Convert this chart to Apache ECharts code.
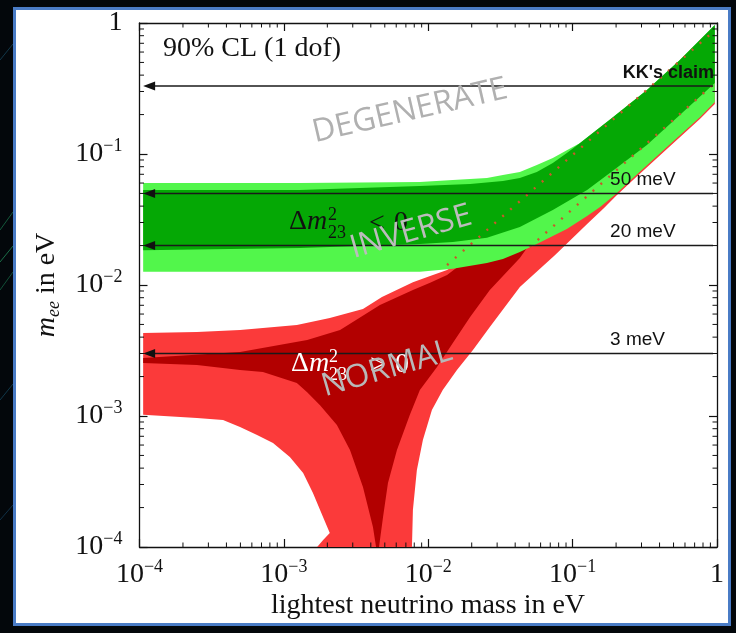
<!DOCTYPE html>
<html>
<head>
<meta charset="utf-8">
<script src="https://cdn.jsdelivr.net/npm/echarts@6.0.0/dist/echarts.min.js"></script>
<style>
html,body{margin:0;padding:0;background:#03070b;}
#chart{width:736px;height:633px;}
</style>
</head>
<body>
<div id="chart"></div>
<script>
// ---------------- data (eV) ----------------
const majorTicks = [1e-4, 1e-3, 1e-2, 1e-1, 1];
const decades = [1e-4, 1e-3, 1e-2, 1e-1];
const minorFactors = [2, 3, 4, 5, 6, 7, 8, 9];

// outer (light red) normal-hierarchy region
const lightRedBand = [
  [1.06e-4, 4.30e-3], [2.5e-4, 4.38e-3], [4.97e-4, 4.53e-3], [7.16e-4, 4.70e-3], [1.23e-3, 4.95e-3],
  [2.08e-3, 5.60e-3], [3.53e-3, 6.56e-3], [4.78e-3, 8.09e-3], [7.83e-3, 1.05e-2], [1.03e-2, 1.17e-2],
  [1.35e-2, 1.30e-2], [8.17e-2, 4.46e-2], [0.966, 0.522], [0.966, 0.241], [0.761, 0.185], [0.450, 0.109],
  [0.262, 0.0634], [0.1995, 0.0478], [0.165, 0.0387], [0.126, 0.0292], [7.53e-2, 0.0169], [4.31e-2, 9.66e-3],
  [2.67e-2, 4.78e-3], [2.04e-2, 3.19e-3], [1.58e-2, 2.24e-3], [1.26e-2, 1.58e-3], [1.06e-2, 1.11e-3],
  [9.18e-3, 6.56e-4], [8.34e-3, 3.87e-4], [7.83e-3, 1.92e-4], [7.71e-3, 1e-4], [1.70e-3, 1e-4],
  [1.87e-3, 1.13e-4], [2.08e-3, 1.28e-4], [1.87e-3, 1.69e-4], [1.59e-3, 2.58e-4], [1.36e-3, 3.67e-4],
  [1.10e-3, 4.86e-4], [8.41e-4, 6.22e-4], [6.52e-4, 7.16e-4], [4.97e-4, 8.24e-4], [3.79e-4, 9.32e-4],
  [2.5e-4, 9.66e-4], [1.06e-4, 1.02e-3]
];
// inner (dark red) normal-hierarchy region
const darkRedBand = [
  [1.06e-4, 2.77e-3], [4.97e-4, 3.08e-3], [1.45e-3, 3.80e-3], [2.45e-3, 4.53e-3], [4.63e-3, 7.03e-3],
  [7.83e-3, 9.16e-3], [1.03e-2, 1.04e-2], [1.35e-2, 1.19e-2], [2.28e-2, 1.85e-2], [4.90e-2, 2.29e-2],
  [5.05e-2, 2.06e-2], [4.31e-2, 1.61e-2], [2.67e-2, 9.16e-3], [1.95e-2, 5.70e-3], [1.48e-2, 3.61e-3],
  [1.15e-2, 2.37e-3], [8.75e-3, 1.58e-3], [7.46e-3, 1.02e-3], [6.07e-3, 5.50e-4], [5.26e-3, 3.08e-4],
  [4.86e-3, 1.69e-4], [4.56e-3, 1e-4], [4.35e-3, 1e-4], [4.14e-3, 1.42e-4], [3.53e-3, 2.87e-4],
  [2.87e-3, 5.50e-4], [2.33e-3, 8.54e-4], [1.78e-3, 1.21e-3], [1.45e-3, 1.52e-3], [1.23e-3, 1.79e-3],
  [7.16e-4, 2.17e-3], [4.97e-4, 2.24e-3], [2.5e-4, 2.45e-3], [1.06e-4, 2.54e-3]
];
// outer (light green) inverted-hierarchy region
const lightGreenBand = [
  [1.06e-4, 0.0601], [1.29e-3, 0.0601], [8.75e-3, 0.0611], [1.48e-2, 0.0634], [2.55e-2, 0.0656],
  [3.29e-2, 0.0691], [4.31e-2, 0.0729], [5.65e-2, 0.0824], [7.29e-2, 0.0932], [9.12e-2, 0.107],
  [0.112, 0.121], [0.190, 0.191], [0.327, 0.308], [0.553, 0.522], [0.966, 0.965], [0.966, 0.249],
  [0.761, 0.191], [0.450, 0.113], [0.262, 0.0656], [0.1995, 0.0495], [0.155, 0.0394], [0.126, 0.0336],
  [9.12e-2, 0.0268], [7.29e-2, 0.0237], [5.65e-2, 0.0206], [4.31e-2, 0.0179], [3.29e-2, 0.0158],
  [2.55e-2, 0.0147], [1.48e-2, 0.0133], [8.75e-3, 0.0126], [1.06e-4, 0.0126]
];
// inner (dark green) inverted-hierarchy region
const darkGreenBand = [
  [1.06e-4, 0.0531], [1.29e-3, 0.0531], [8.75e-3, 0.0570], [1.95e-2, 0.0590], [3.29e-2, 0.0622],
  [4.31e-2, 0.0656], [5.65e-2, 0.0729], [7.29e-2, 0.0854], [9.12e-2, 0.1018], [0.112, 0.121],
  [0.190, 0.191], [0.327, 0.308], [0.553, 0.522], [0.966, 0.965], [0.966, 0.348], [0.553, 0.1985],
  [0.327, 0.117], [0.181, 0.0716], [0.126, 0.0531], [7.29e-2, 0.0374], [4.31e-2, 0.0277],
  [2.55e-2, 0.0229], [1.48e-2, 0.0213], [8.75e-3, 0.0206], [1.29e-3, 0.0192], [1.06e-4, 0.0184]
];
// dotted continuations of the normal-hierarchy contours under the green band
const normalOuterDotted = [[1.35e-2, 1.42e-2], [0.966, 0.88]];
const normalInnerDotted = [[5.05e-2, 1.95e-2], [0.966, 0.348]];

// horizontal arrows
const arrowLevels = [0.33, 0.05, 0.02, 0.003];
const arrowLabels = ["KK's claim", "50 meV", "20 meV", "3 meV"];
const arrowRange = [1.06e-4, 0.94];

// ---------------- styling ----------------
const SERIF = '"Liberation Serif","Times New Roman",serif';
const SANS = '"Liberation Sans",Arial,sans-serif';
const WM = '"Open Sans","DejaVu Sans",sans-serif';
const INK = '#111111';

const minorTickValues = [];
decades.forEach(d => minorFactors.forEach(f => minorTickValues.push(f * d)));

function powLabel(v) {
  const e = Math.round(Math.log10(v));
  if (e === 0) return '{b|1}';
  return '{b|10}{s|\u2212' + (-e) + '}';
}
const tickRich = {
  b: { fontFamily: SERIF, fontSize: 28, lineHeight: 34, color: INK },
  s: { fontFamily: SERIF, fontSize: 18, lineHeight: 18, verticalAlign: 'top', color: INK }
};

function logAxis(extra) {
  return Object.assign({
    type: 'log', logBase: 10, min: 1e-4, max: 1, splitNumber: 4,
    axisLine: { show: true, onZero: false, lineStyle: { color: INK, width: 1.3 } },
    axisTick: { show: true, inside: true, length: 8, lineStyle: { color: INK, width: 1.2 } },
    splitLine: { show: false },
    minorTick: { show: false }
  }, extra);
}

function bandSeries(name, pts, color, z) {
  return {
    type: 'custom', name: name, z: z, clip: true, silent: true,
    data: pts,
    renderItem: function (params, api) {
      if (params.dataIndex !== 0) return null;
      return {
        type: 'polygon',
        shape: { points: pts.map(p => api.coord(p)) },
        style: { fill: color }
      };
    }
  };
}

const chart = echarts.init(document.getElementById('chart'), null, { renderer: 'canvas', width: 736, height: 633 });

const option = {
  animation: false,
  backgroundColor: '#03070b',
  grid: { left: 139.5, right: 19, top: 23, bottom: 86, containLabel: false, outerBoundsMode: 'none' },
  xAxis: [
    logAxis({
      position: 'bottom',
      axisLabel: { show: true, margin: 11, formatter: powLabel, rich: tickRich, showMinLabel: true, showMaxLabel: true }
    }),
    logAxis({ position: 'top', axisLabel: { show: false } })
  ],
  yAxis: [
    logAxis({
      position: 'left',
      axisLabel: { show: true, margin: 17, formatter: powLabel, rich: tickRich, showMinLabel: true, showMaxLabel: true }
    }),
    logAxis({ position: 'right', axisLabel: { show: false } })
  ],
  series: [
    bandSeries('normal outer', lightRedBand, '#fb3a3a', 1),
    bandSeries('normal inner', darkRedBand, '#b20000', 1),
    bandSeries('inverted outer', lightGreenBand, '#52f64b', 2),
    bandSeries('inverted inner', darkGreenBand, '#05a805', 2),
    {
      type: 'line', z: 3, data: normalOuterDotted, showSymbol: false, symbol: 'none', silent: true, clip: true,
      lineStyle: { color: '#c8582a', width: 2.4, type: [2, 8.5] }
    },
    {
      type: 'line', z: 3, data: normalInnerDotted, showSymbol: false, symbol: 'none', silent: true, clip: true,
      lineStyle: { color: '#c8582a', width: 2.4, type: [2, 8.5] }
    },
    {
      type: 'custom', z: 4, silent: true, clip: false,
      data: arrowLevels.map(l => [arrowRange[0], l]),
      renderItem: function (params, api) {
        const i = params.dataIndex;
        const l = arrowLevels[i];
        const p0 = api.coord([arrowRange[0], l]);
        const p1 = api.coord([arrowRange[1], l]);
        const kids = [
          { type: 'line', shape: { x1: p0[0] + 4, y1: p0[1], x2: p1[0], y2: p1[1] }, style: { stroke: '#1a1a1a', lineWidth: 1.6 } },
          { type: 'polygon', shape: { points: [[p0[0], p0[1]], [p0[0] + 12, p0[1] - 4.5], [p0[0] + 12, p0[1] + 4.5]] }, style: { fill: '#111' } }
        ];
        if (i === 0) {
          kids.push({ type: 'text', x: p1[0] + 1, y: p1[1] - 4,
            style: { text: arrowLabels[i], fontFamily: SANS, fontSize: 18, fontWeight: 'bold', fill: '#111', align: 'right', verticalAlign: 'bottom' } });
        } else {
          kids.push({ type: 'text', x: p1[0] - 103, y: p1[1] - 4,
            style: { text: arrowLabels[i], fontFamily: SANS, fontSize: 19, fill: '#111', align: 'left', verticalAlign: 'bottom' } });
        }
        return { type: 'group', children: kids };
      }
    },
    {
      type: 'custom', z: 5, silent: true, clip: false,
      data: minorTickValues.map(v => [v, v]),
      renderItem: function (params, api) {
        const v = minorTickValues[params.dataIndex];
        const b = api.coord([v, 1e-4]), t = api.coord([v, 1]);
        const lft = api.coord([1e-4, v]), r = api.coord([1, v]);
        const L = 4.5, st = { stroke: INK, lineWidth: 1 };
        return { type: 'group', children: [
          { type: 'line', shape: { x1: b[0], y1: b[1], x2: b[0], y2: b[1] - L }, style: st },
          { type: 'line', shape: { x1: t[0], y1: t[1], x2: t[0], y2: t[1] + L }, style: st },
          { type: 'line', shape: { x1: lft[0], y1: lft[1], x2: lft[0] + L, y2: lft[1] }, style: st },
          { type: 'line', shape: { x1: r[0], y1: r[1], x2: r[0] - L, y2: r[1] }, style: st }
        ] };
      }
    }
  ],
  graphic: { elements: [
    // white panel with blue frame
    { type: 'rect', z: -10, silent: true, shape: { x: 14.5, y: 8.5, width: 715, height: 616 },
      style: { fill: '#ffffff', stroke: '#4a7cc6', lineWidth: 3 } },
    // faint streaks on the dark left margin
    { type: 'line', z: -11, shape: { x1: 0, y1: 230, x2: 13, y2: 212 }, style: { stroke: '#145a3c', lineWidth: 1 } },
    { type: 'line', z: -11, shape: { x1: 0, y1: 262, x2: 13, y2: 246 }, style: { stroke: '#1b6e48', lineWidth: 1 } },
    { type: 'line', z: -11, shape: { x1: 0, y1: 290, x2: 13, y2: 272 }, style: { stroke: '#125038', lineWidth: 1 } },
    { type: 'line', z: -11, shape: { x1: 0, y1: 60, x2: 13, y2: 44 }, style: { stroke: '#12384a', lineWidth: 1 } },
    { type: 'line', z: -11, shape: { x1: 0, y1: 400, x2: 13, y2: 384 }, style: { stroke: '#10384a', lineWidth: 1 } },
    { type: 'line', z: -11, shape: { x1: 0, y1: 520, x2: 13, y2: 505 }, style: { stroke: '#0f3046', lineWidth: 1 } },
    // titles
    { type: 'text', z: 50, x: 428, y: 592, style: { text: 'lightest neutrino mass in eV', fontFamily: SERIF, fontSize: 28, fill: INK, align: 'center', verticalAlign: 'top' } },
    { type: 'text', z: 50, x: 47, y: 285, rotation: Math.PI / 2,
      style: { text: '{m|m}{e|ee}{n| in eV}', align: 'center', verticalAlign: 'middle',
        rich: {
          m: { fontFamily: SERIF, fontSize: 28, fontStyle: 'italic', fill: INK, lineHeight: 32 },
          e: { fontFamily: SERIF, fontSize: 18, fontStyle: 'italic', fill: INK, lineHeight: 18, verticalAlign: 'bottom' },
          n: { fontFamily: SERIF, fontSize: 28, fill: INK, lineHeight: 32 }
        } } },
    { type: 'text', z: 50, x: 163, y: 49, style: { text: '90% CL (1 dof)', fontFamily: SERIF, fontSize: 28, fill: INK, align: 'left', verticalAlign: 'middle' } },
    // Δm²₂₃ < 0
    { type: 'text', z: 20, x: 289, y: 222, style: { text: '{n|\u0394}{i|m}', verticalAlign: 'middle', align: 'left',
        rich: { n: { fontFamily: SERIF, fontSize: 28, fill: INK }, i: { fontFamily: SERIF, fontSize: 28, fontStyle: 'italic', fill: INK } } } },
    { type: 'text', z: 20, x: 328, y: 215, style: { text: '2', fontFamily: SERIF, fontSize: 18, fill: INK, verticalAlign: 'middle' } },
    { type: 'text', z: 20, x: 328, y: 233, style: { text: '23', fontFamily: SERIF, fontSize: 18, fill: INK, verticalAlign: 'middle' } },
    { type: 'text', z: 20, x: 369, y: 224, style: { text: '<', fontFamily: SERIF, fontSize: 28, fill: INK, verticalAlign: 'middle' } },
    { type: 'text', z: 20, x: 394, y: 223, style: { text: '0', fontFamily: SERIF, fontSize: 28, fill: INK, verticalAlign: 'middle' } },
    // Δm²₂₃ > 0
    { type: 'text', z: 20, x: 291, y: 364, style: { text: '{n|\u0394}{i|m}', verticalAlign: 'middle', align: 'left',
        rich: { n: { fontFamily: SERIF, fontSize: 28, fill: '#ffffff' }, i: { fontFamily: SERIF, fontSize: 28, fontStyle: 'italic', fill: '#ffffff' } } } },
    { type: 'text', z: 20, x: 329, y: 357, style: { text: '2', fontFamily: SERIF, fontSize: 18, fill: '#ffffff', verticalAlign: 'middle' } },
    { type: 'text', z: 20, x: 329, y: 375, style: { text: '23', fontFamily: SERIF, fontSize: 18, fill: '#ffffff', verticalAlign: 'middle' } },
    { type: 'text', z: 20, x: 370, y: 366, style: { text: '>', fontFamily: SERIF, fontSize: 28, fill: '#ffffff', verticalAlign: 'middle' } },
    { type: 'text', z: 20, x: 395, y: 365, style: { text: '0', fontFamily: SERIF, fontSize: 28, fill: '#ffffff', verticalAlign: 'middle' } },
    // grey watermarks
    { type: 'text', z: 30, x: 410, y: 111, rotation: 13 * Math.PI / 180,
      style: { text: 'DEGENERATE', fontFamily: WM, fontSize: 32, fill: '#b0b0b0', align: 'center', verticalAlign: 'middle' } },
    { type: 'text', z: 30, x: 411, y: 232, rotation: 16 * Math.PI / 180,
      style: { text: 'INVERSE', fontFamily: WM, fontSize: 32, fill: '#bcbcbc', align: 'center', verticalAlign: 'middle' } },
    { type: 'text', z: 30, x: 387, y: 369, rotation: 16 * Math.PI / 180,
      style: { text: 'NORMAL', fontFamily: WM, fontSize: 32, fill: '#b8b8b8', align: 'center', verticalAlign: 'middle' } }
  ] }
};
chart.setOption(option);
</script>
</body>
</html>
